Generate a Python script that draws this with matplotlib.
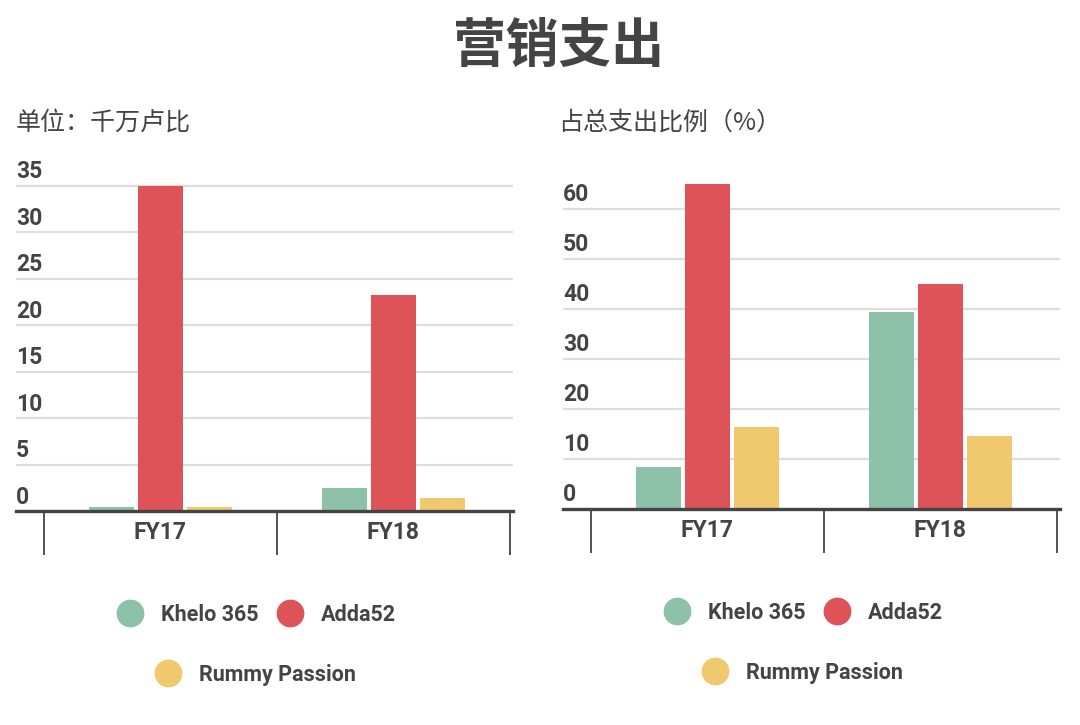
"""
营销支出 — Khelo 365 / Adda52 / Rummy Passion, FY17 vs FY18
Left: spend in crore rupees; right: share of total spend (%).
"""

import matplotlib.pyplot as plt
from matplotlib.lines import Line2D
import numpy as np

# --- data ---
years = ['FY17', 'FY18']
brands = ['Khelo 365', 'Adda52', 'Rummy Passion']

khelo_spend = [0.4, 2.5]
adda_spend = [35.0, 23.2]
rummy_spend = [0.4, 1.4]

khelo_share = [8.4, 39.4]
adda_share = [65.0, 45.0]
rummy_share = [16.4, 14.5]

spend_ticks = [0, 5, 10, 15, 20, 25, 30, 35]
share_ticks = [0, 10, 20, 30, 40, 50, 60]

colors = ['#8ec2a8', '#de5358', '#f0c86e']
text_color = '#444444'
cjk = ['Noto Sans CJK SC', 'DejaVu Sans']

W, H = 1080, 725
fig = plt.figure(figsize=(W / 100, H / 100), dpi=100, facecolor='white')


def px_axes(x0, x1, y_base, height):
    # axes placed in reference pixel coords (y from top)
    return fig.add_axes([x0 / W, (H - y_base) / H, (x1 - x0) / W, height / H])


def draw_panel(ax, series, yticks, ymax):
    x = np.arange(len(years))
    for i, (vals, color) in enumerate(zip(series, colors)):
        ax.bar(x + (i - 1) * 0.21, vals, width=0.193, color=color, zorder=3)

    ax.set_xlim(-0.62, 1.513)
    ax.set_ylim(0, ymax)
    ax.set_axisbelow(True)

    # y grid, labels sit just above each gridline at the left edge
    ax.set_yticks(yticks)
    ax.yaxis.grid(True, color='#dddddd', linewidth=1.6)
    ax.tick_params(axis='y', length=0, labelleft=False)
    for v in yticks:
        ax.annotate(str(v), xy=(0, v), xycoords=('axes fraction', 'data'),
                    xytext=(0, 1.5), textcoords='offset points',
                    ha='left', va='bottom', fontsize=16.5, fontweight='bold',
                    color=text_color, family='Roboto')

    for s in ['top', 'left', 'right']:
        ax.spines[s].set_visible(False)
    ax.spines['bottom'].set_color(text_color)
    ax.spines['bottom'].set_linewidth(2.4)
    ax.spines['bottom'].set_zorder(4)

    # category separators as long major ticks, names as minor ticks
    ax.set_xticks([-0.5, 0.5, 1.5])
    ax.set_xticklabels([])
    ax.tick_params(axis='x', which='major', length=32, width=1.3,
                   color=text_color, direction='out')
    ax.set_xticks(x, minor=True)
    ax.set_xticklabels(years, minor=True, fontsize=16.5, fontweight='bold',
                       color=text_color, family='Roboto')
    ax.tick_params(axis='x', which='minor', length=0, pad=7.5)


def draw_legend(ax, row1_xy, row2_xy):
    handles = [Line2D([], [], marker='o', linestyle='none', markersize=20,
                      markerfacecolor=c, markeredgewidth=0, label=b)
               for b, c in zip(brands, colors)]
    opts = dict(loc='center', frameon=False, bbox_transform=fig.transFigure,
                handlelength=1.3, handletextpad=0.8, columnspacing=0.8,
                borderpad=0, labelcolor=text_color,
                prop={'family': 'Roboto', 'weight': 'bold', 'size': 15.5})
    leg1 = ax.legend(handles=handles[:2], ncol=2,
                     bbox_to_anchor=(row1_xy[0] / W, 1 - row1_xy[1] / H), **opts)
    ax.add_artist(leg1)
    ax.legend(handles=handles[2:], ncol=1,
              bbox_to_anchor=(row2_xy[0] / W, 1 - row2_xy[1] / H), **opts)


# left panel: 9.3 px per unit, baseline at y=511
ax1 = px_axes(16, 513, 511, 38 * 9.3)
draw_panel(ax1, [khelo_spend, adda_spend, rummy_spend], spend_ticks, 38)
draw_legend(ax1, (256, 615), (255, 675))

# right panel: 5 px per unit, baseline at y=508.5
ax2 = px_axes(563, 1060, 508.5, 70 * 5)
draw_panel(ax2, [khelo_share, adda_share, rummy_share], share_ticks, 70)
draw_legend(ax2, (803, 613), (802, 673))

# titles
fig.text(559 / W, 1 - 46 / H, '营销支出', ha='center', va='center',
         fontsize=38, fontweight='bold', color=text_color, family=cjk)
fig.text(16 / W, 1 - 123 / H, '单位：千万卢比', ha='left', va='center',
         fontsize=18, color=text_color, family=cjk)
fig.text(558 / W, 1 - 123 / H, '占总支出比例（%）', ha='left', va='center',
         fontsize=18, color=text_color, family=cjk)

fig.savefig('out.png', dpi=100, facecolor='white')
plt.close(fig)
